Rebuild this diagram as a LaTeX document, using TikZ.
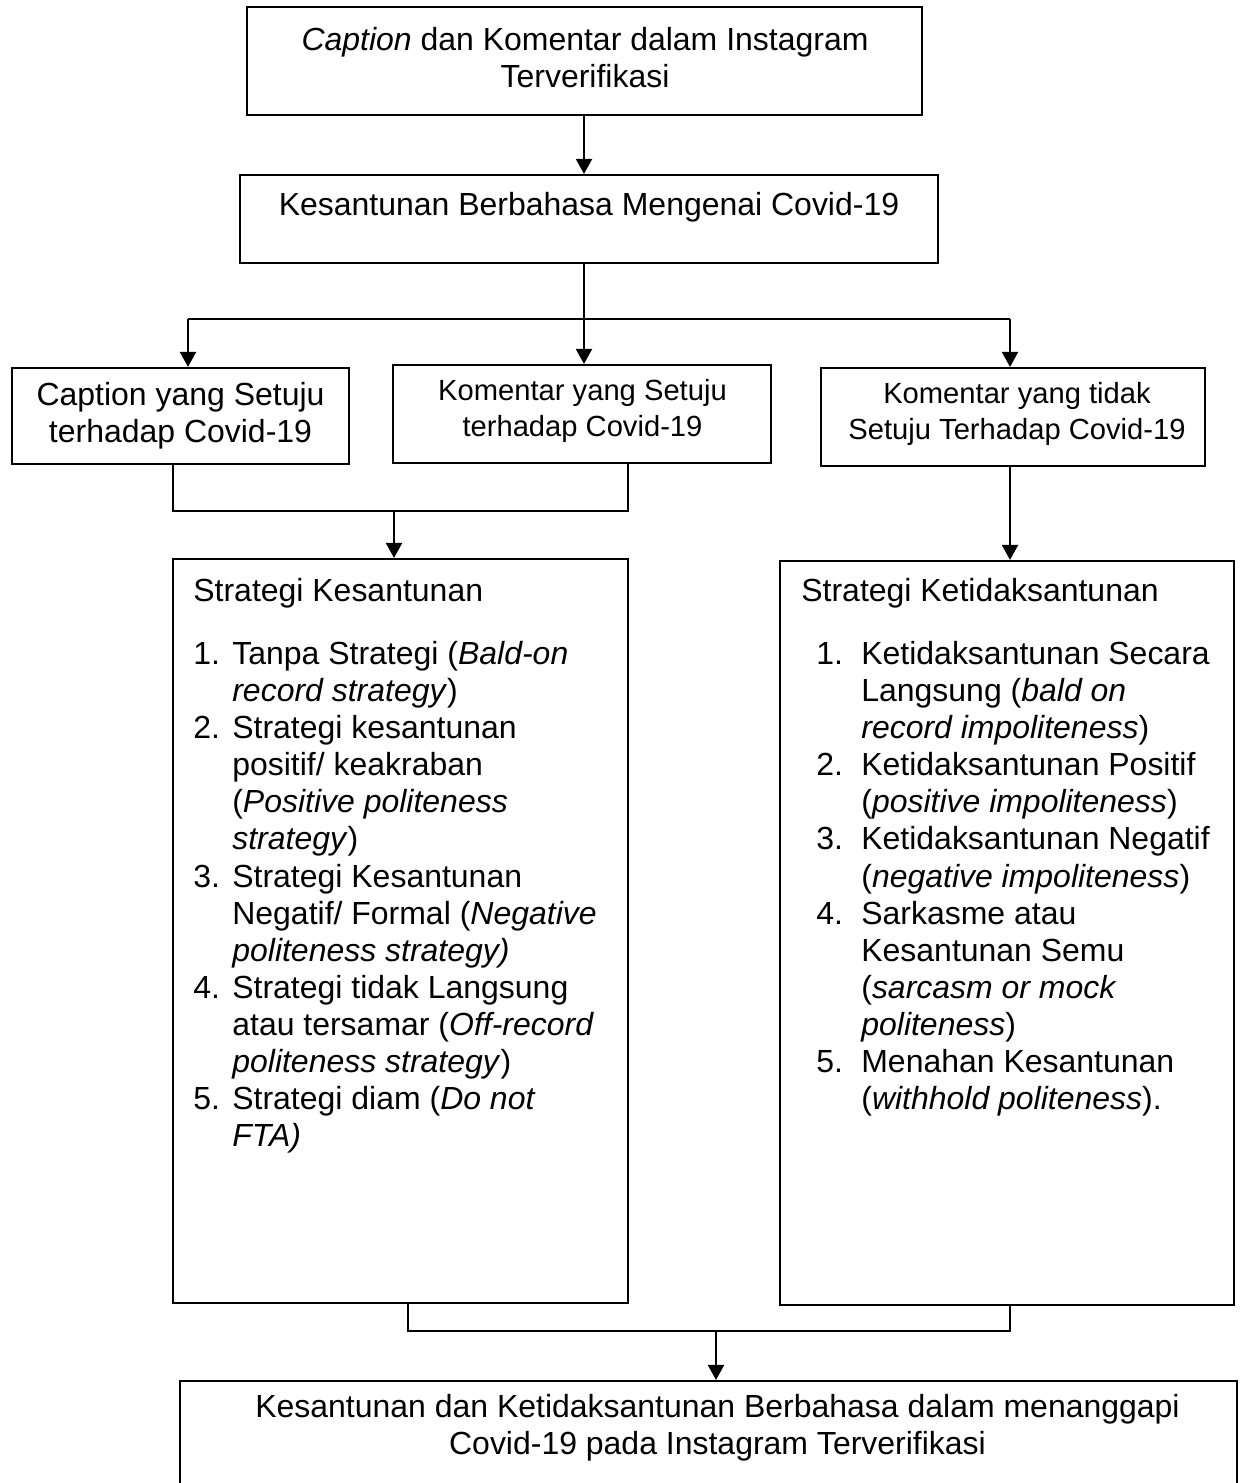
\documentclass[tikz,border=0pt]{standalone}
\usepackage{fontspec}
\setmainfont{Liberation Sans}
\usetikzlibrary{arrows.meta,fit}
\newcommand\mainsz{\fontsize{18.2}{21.1}\selectfont}
\newcommand\smallsz{\fontsize{16.6}{20.2}\selectfont}
\newcommand\numD[1]{\makebox[0.78cm][l]{#1}}
\newcommand\indD{\hspace*{0.78cm}}
\newcommand\numE[1]{\hspace*{0.3cm}\makebox[0.9cm][l]{#1}}
\newcommand\indE{\hspace*{1.2cm}}
\begin{document}
\begin{tikzpicture}[x=0.02cm,y=-0.02cm,
  box/.style={draw, line width=1.2pt, inner sep=0pt, rectangle},
  lbl/.style={align=center, inner sep=0pt, font=\mainsz},
  listtext/.style={align=left, inner sep=0pt, anchor=north west, font=\mainsz},
  conn/.style={line width=1.2pt},
  arr/.style={line width=1.2pt, -{Triangle[length=0.3cm,width=0.32cm]}},
]
\useasboundingbox (0,0) rectangle (1248,1483);

% boxes
\node[box, fit={(247,7) (922,115)}] (top) {};
\node[box, fit={(240,175) (938,263)}] (k) {};
\node[box, fit={(12,368) (349,464)}] (A) {};
\node[box, fit={(393,365) (771,463)}] (B) {};
\node[box, fit={(821,368) (1205,466)}] (C) {};
\node[box, fit={(173,559) (628,1303)}] (D) {};
\node[box, fit={(780,561) (1234,1305)}] (E) {};
\node[box, fit={(180,1381) (1237,1500)}] (F) {};

% texts
\node[lbl] (topt) at (585,58) {\textit{Caption} dan Komentar dalam Instagram\\Terverifikasi};
\node[lbl] (kt) at (589,207) {Kesantunan Berbahasa Mengenai Covid-19};
\node[lbl] (At) at (180.5,416) {Caption yang Setuju\\terhadap Covid-19};
\node[lbl, font=\smallsz] (Bt) at (582.5,411) {Komentar yang Setuju\\terhadap Covid-19};
\node[lbl, font=\smallsz] (Ct) at (1017,414) {Komentar yang tidak\\Setuju Terhadap Covid-19};
\node[lbl] (Ft) at (717.5,1428) {Kesantunan dan Ketidaksantunan Berbahasa dalam menanggapi\\Covid-19 pada Instagram Terverifikasi};

\node[listtext] (Dt) at (193,578) {Strategi Kesantunan\\[0.52cm]
\numD{1.}Tanpa Strategi (\textit{Bald-on}\\
\indD\textit{record strategy})\\
\numD{2.}Strategi kesantunan\\
\indD positif/ keakraban\\
\indD(\textit{Positive politeness}\\
\indD\textit{strategy})\\
\numD{3.}Strategi Kesantunan\\
\indD Negatif/ Formal (\textit{Negative}\\
\indD\textit{politeness strategy)}\\
\numD{4.}Strategi tidak Langsung\\
\indD atau tersamar (\textit{Off-record}\\
\indD\textit{politeness strategy})\\
\numD{5.}Strategi diam (\textit{Do not}\\
\indD\textit{FTA)}};

\node[listtext] (Et) at (801,578) {Strategi Ketidaksantunan\\[0.52cm]
\numE{1.}Ketidaksantunan Secara\\
\indE Langsung (\textit{bald on}\\
\indE\textit{record impoliteness})\\
\numE{2.}Ketidaksantunan Positif\\
\indE(\textit{positive impoliteness})\\
\numE{3.}Ketidaksantunan Negatif\\
\indE(\textit{negative impoliteness})\\
\numE{4.}Sarkasme atau\\
\indE Kesantunan Semu\\
\indE(\textit{sarcasm or mock}\\
\indE\textit{politeness})\\
\numE{5.}Menahan Kesantunan\\
\indE(\textit{withhold politeness}).};

% junction coordinates
\coordinate (jM) at (584,319);
\coordinate (jL) at (188,319);
\coordinate (jR) at (1010,319);
\coordinate (aL) at (173,511);
\coordinate (aR) at (628,511);
\coordinate (aM) at (394,511);
\coordinate (bL) at (408,1331);
\coordinate (bR) at (1010,1331);
\coordinate (bM) at (716,1331);

% connectors
\draw[arr] (top.south -| jM) -- (k.north -| jM);
\draw[conn] (k.south -| jM) -- (jM);
\draw[conn] (jL) -- (jR);
\draw[arr] (jL) -- (A.north -| jL);
\draw[arr] (jM) -- (B.north -| jM);
\draw[arr] (jR) -- (C.north -| jR);

\draw[conn] (A.south -| aL) -- (aL) -- (aR) -- (B.south -| aR);
\draw[arr] (aM) -- (D.north -| aM);
\draw[arr] (C.south -| jR) -- (E.north -| jR);

\draw[conn] (D.south -| bL) -- (bL) -- (bR) -- (E.south -| bR);
\draw[arr] (bM) -- (F.north -| bM);
\end{tikzpicture}
\end{document}
